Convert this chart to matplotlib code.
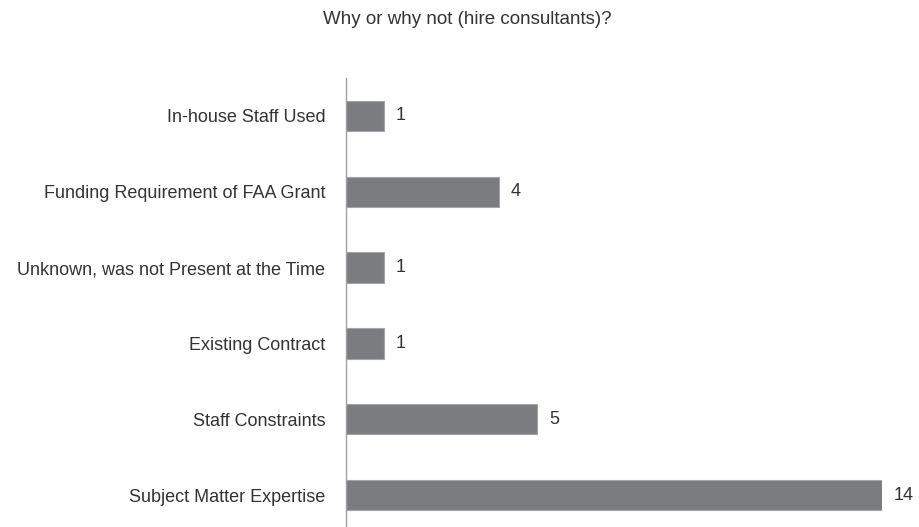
import matplotlib.pyplot as plt

# survey responses, listed top to bottom
reasons = [
    'In-house Staff Used',
    'Funding Requirement of FAA Grant',
    'Unknown, was not Present at the Time',
    'Existing Contract',
    'Staff Constraints',
    'Subject Matter Expertise',
]
counts = [1, 4, 1, 1, 5, 14]

plt.rcParams['font.family'] = ['Liberation Sans', 'DejaVu Sans']
text_color = '#333333'

fig = plt.figure(figsize=(9.19, 5.27), dpi=100)
ax = fig.add_axes([346 / 919, 1 - 533 / 527, 536 / 919, 455 / 527])

pos = range(len(reasons))
ax.barh(pos, counts, height=0.4, color='#7b7c80', edgecolor='#a3a4a8', linewidth=0.8)

for y, v in zip(pos, counts):
    ax.text(v + 0.3, y, str(v), va='center', ha='left', fontsize=13,
            color=text_color, clip_on=False)

ax.set_xlim(0, 14)
ax.set_ylim(len(reasons) - 0.5, -0.5)
ax.set_yticks(list(pos))
ax.set_yticklabels(reasons, fontsize=13, color=text_color)
ax.tick_params(axis='y', length=0, pad=15)
ax.set_xticks([])

for side in ['top', 'right', 'bottom']:
    ax.spines[side].set_visible(False)
ax.spines['left'].set_color('#a0a0a0')
ax.spines['left'].set_linewidth(1.0)

fig.text(467 / 919, 1 - 19 / 527, 'Why or why not (hire consultants)?',
         ha='center', va='center', fontsize=13.5, color=text_color)

fig.savefig('out.png', dpi=100)
